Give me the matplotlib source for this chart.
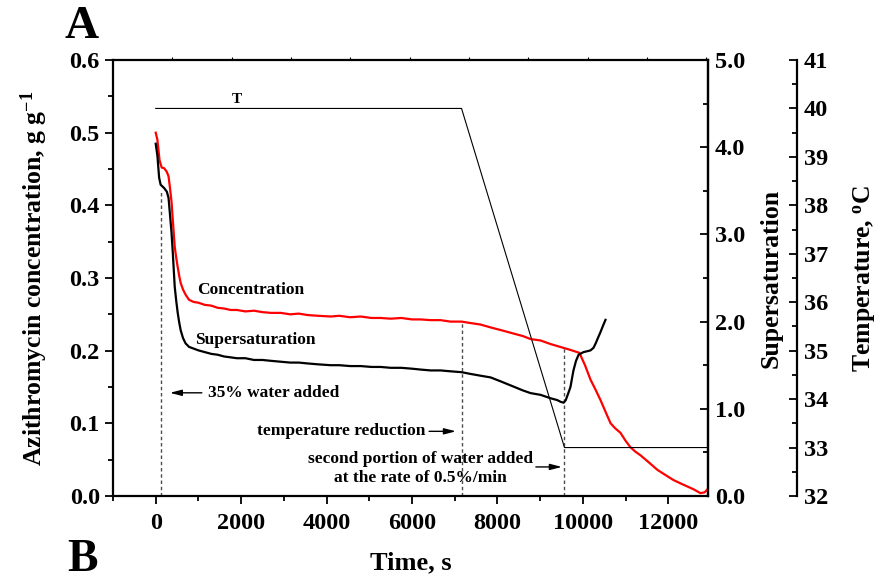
import matplotlib
matplotlib.use("Agg")
import matplotlib.pyplot as plt
import numpy as np

plt.rcParams['font.family'] = ['Liberation Serif', 'DejaVu Serif']
plt.rcParams['font.weight'] = 'bold'
plt.rcParams['mathtext.fontset'] = 'custom'
plt.rcParams['mathtext.rm'] = 'Liberation Serif:bold'
plt.rcParams['mathtext.bf'] = 'Liberation Serif:bold'
plt.rcParams['mathtext.it'] = 'Liberation Serif:bold'

# concentration (g/g) vs time (s)
conc_time = [0, 40, 90, 140, 200, 260, 300, 330, 370, 400, 445, 480, 515, 550, 585, 640, 700, 780, 890,
             1000, 1150, 1300, 1450, 1600, 1755, 1900, 2100, 2300, 2500, 2700, 2925, 3150, 3350, 3557,
             3800, 4095, 4300, 4550, 4800, 5050, 5265, 5500, 5750, 6000, 6200, 6435, 6670, 6900, 7160,
             7370, 7600, 7840, 8100, 8350, 8600, 8775, 9010, 9250, 9480, 9710, 9920, 10050, 10180,
             10300, 10413, 10530, 10650, 10760, 10880, 11000, 11115, 11230, 11350, 11550, 11745, 11930,
             12120, 12300, 12450, 12600, 12750, 12850, 12915]
conc = [0.500, 0.490, 0.462, 0.452, 0.451, 0.446, 0.440, 0.426, 0.405, 0.380, 0.343, 0.328, 0.315, 0.303,
        0.293, 0.284, 0.277, 0.270, 0.267, 0.266, 0.263, 0.262, 0.259, 0.258, 0.256, 0.256, 0.254, 0.255,
        0.253, 0.252, 0.252, 0.250, 0.251, 0.249, 0.248, 0.247, 0.248, 0.246, 0.247, 0.245, 0.245, 0.244,
        0.245, 0.243, 0.243, 0.242, 0.242, 0.240, 0.240, 0.238, 0.236, 0.232, 0.228, 0.224, 0.220, 0.216,
        0.214, 0.209, 0.205, 0.201, 0.197, 0.180, 0.160, 0.146, 0.132, 0.116, 0.100, 0.093, 0.087, 0.076,
        0.067, 0.061, 0.056, 0.046, 0.036, 0.029, 0.022, 0.017, 0.013, 0.009, 0.004, 0.005, 0.009]

# supersaturation vs time (s)
ss_time = [0, 40, 80, 115, 200, 260, 300, 330, 370, 400, 445, 480, 515, 550, 585, 640, 700, 780, 890,
           1000, 1150, 1300, 1450, 1600, 1755, 1900, 2100, 2300, 2500, 2700, 2925, 3150, 3350, 3557,
           3800, 4095, 4300, 4550, 4800, 5050, 5265, 5500, 5750, 6000, 6200, 6435, 6670, 6900, 7160,
           7370, 7600, 7840, 8100, 8350, 8600, 8775, 9010, 9250, 9400, 9480, 9550, 9600, 9660, 9710,
           9780, 9840, 9900, 10015, 10100, 10180, 10250, 10300, 10360, 10413, 10470, 10530]
ss = [4.04, 3.90, 3.65, 3.57, 3.53, 3.49, 3.42, 3.25, 3.02, 2.79, 2.40, 2.24, 2.10, 1.99, 1.90, 1.81,
      1.75, 1.71, 1.69, 1.67, 1.65, 1.63, 1.62, 1.60, 1.59, 1.58, 1.58, 1.56, 1.56, 1.55, 1.54, 1.53,
      1.53, 1.52, 1.51, 1.50, 1.50, 1.49, 1.49, 1.48, 1.48, 1.47, 1.47, 1.46, 1.45, 1.44, 1.44, 1.43,
      1.42, 1.40, 1.38, 1.36, 1.31, 1.26, 1.21, 1.18, 1.16, 1.12, 1.10, 1.08, 1.07, 1.10, 1.18, 1.25,
      1.44, 1.55, 1.62, 1.65, 1.66, 1.67, 1.70, 1.75, 1.82, 1.88, 1.95, 2.02]

# temperature programme
temp_time = [0, 7160, 9570, 12930]
temp = [40, 40, 33, 33]

# event markers (time, top of dashed line in g/g)
event_time = [117, 7160, 9570]
event_top = [0.421, 0.240, 0.205]

fig = plt.figure(figsize=(8.83, 5.83), dpi=100)
ax = fig.add_axes([113 / 883, 1 - 496 / 583, 595 / 883, 436 / 583])
ax2 = ax.twinx()
ax3 = ax.twinx()
ax4 = ax.twiny()

ax.plot(conc_time, conc, color='#ff0000', lw=1.6, zorder=3)
ax2.plot(ss_time, ss, color='black', lw=1.6, zorder=3)
ax3.plot(temp_time, temp, color='black', lw=0.8)

for t, top in zip(event_time, event_top):
    ax.plot([t, t], [0, top], color='0.3', lw=1, linestyle=(0, (2.5, 2)))

ax.set_xlim(-1000, 12930)
ax.set_ylim(0, 0.6)
ax2.set_ylim(0, 5)
ax3.set_ylim(32, 41)
ax4.set_xlim(0, 10.03)

ax.set_xticks(np.arange(0, 12001, 2000))
ax.set_xticks(np.arange(-1000, 12001, 2000), minor=True)
ax.set_yticks(np.arange(0, 0.61, 0.1))
ax.set_yticks(np.arange(0.05, 0.6, 0.1), minor=True)
ax.yaxis.set_major_formatter(matplotlib.ticker.FormatStrFormatter('%.1f'))
ax2.set_yticks(np.arange(0, 5.01, 1.0))
ax2.set_yticks(np.arange(0.5, 5, 1.0), minor=True)
ax2.yaxis.set_major_formatter(matplotlib.ticker.FormatStrFormatter('%.1f'))
ax3.set_yticks(np.arange(32, 42, 1))
ax3.set_yticks(np.arange(32.5, 41, 1), minor=True)
ax4.set_xticks(np.arange(1, 11, 1))

ax.tick_params(axis='both', which='major', direction='out', length=6, width=1.3, labelsize=17.5, pad=3.5)
ax.tick_params(axis='both', which='minor', direction='out', length=3.5, width=1.3)
ax.tick_params(axis='x', which='major', pad=6)
ax2.tick_params(axis='y', which='major', direction='in', length=6, width=1.3, labelsize=17.5, pad=5)
ax2.tick_params(axis='y', which='minor', direction='in', length=3.5, width=1.3)
ax3.tick_params(axis='y', which='major', direction='in', length=6, width=1.3, labelsize=17.5, pad=5)
ax3.tick_params(axis='y', which='minor', direction='in', length=3.5, width=1.3)
ax4.tick_params(axis='x', which='major', direction='out', length=2, width=0.8, labeltop=False)

for s in ax.spines.values():
    s.set_linewidth(1.6)
for name, s in ax2.spines.items():
    s.set_visible(name == 'right')
    s.set_linewidth(1.6)
for name, s in ax3.spines.items():
    s.set_visible(name == 'right')
    s.set_linewidth(1.6)
for s in ax4.spines.values():
    s.set_visible(False)
ax3.spines['right'].set_position(('axes', 1 + 89 / 595))

ax.set_xlabel('Time, s', fontsize=19, fontweight='bold')
ax.xaxis.set_label_coords(0.5, -0.128)
ax.set_ylabel(r'Azithromycin concentration, g g$^{\mathbf{-1}}$', fontsize=18.5, fontweight='bold')
ax.yaxis.set_label_coords(-0.106, 0.5)
ax2.set_ylabel('Supersaturation', fontsize=18.5, fontweight='bold')
ax2.yaxis.set_label_coords(1.086, 0.5)
ax3.set_ylabel(r'Temperature, $^{\mathbf{o}}$C', fontsize=18.5, fontweight='bold')
ax3.yaxis.set_label_coords(1.24, 0.5)

# annotations
ax.text(1895, 0.545, 'T', fontsize=11, ha='center', va='center')
ax.text(960, 0.283, 'Concentration', fontsize=12.5, ha='left', va='center')
ax.text(915, 0.215, 'Supersaturation', fontsize=12.5, ha='left', va='center')
arrow = dict(arrowstyle='-|>,head_length=0.7,head_width=0.18', color='black', lw=1.0, shrinkA=0, shrinkB=0)
ax.annotate('', xy=(330, 0.142), xytext=(1080, 0.142), arrowprops=arrow)
ax.text(1220, 0.142, '35% water added', fontsize=12.5, ha='left', va='center')
ax.annotate('', xy=(7030, 0.089), xytext=(6400, 0.089), arrowprops=arrow)
ax.text(6310, 0.089, 'temperature reduction', fontsize=12.5, ha='right', va='center')
ax.annotate('', xy=(9510, 0.040), xytext=(8900, 0.040), arrowprops=arrow)
ax.text(6190, 0.0385, 'second portion of water added\nat the rate of 0.5%/min', fontsize=12.5,
        ha='center', va='center', multialignment='center', linespacing=1.25)

fig.text(82 / 883, 1 - 27 / 583, 'A', fontsize=34, fontweight='bold', ha='center', va='center')
fig.text(82 / 883, 2 / 583, 'B', fontsize=33, fontweight='bold', ha='center', va='bottom')

fig.savefig('out.png', dpi=100)
